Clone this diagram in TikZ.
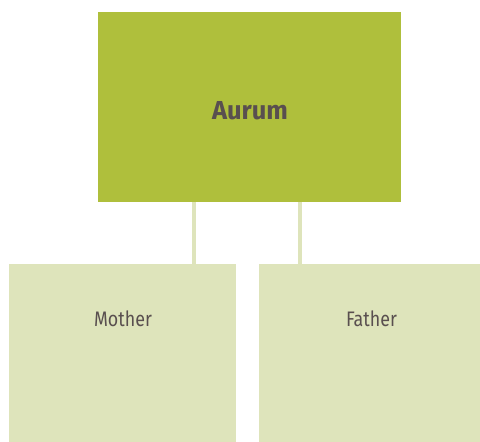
\documentclass[tikz,border=0pt]{standalone}
\usepackage{fontspec}
\setmainfont{Fira Sans}
\newfontfamily\condfont[FakeStretch=0.85]{Fira Sans}
\newfontfamily\condbold[FakeStretch=0.98]{Fira Sans}
\definecolor{topgreen}{HTML}{AFBF3C}
\definecolor{paleg}{HTML}{DEE4BB}
\definecolor{txt}{HTML}{594F4F}
\begin{document}
\begin{tikzpicture}[x=1pt,y=-1pt,
  box/.style={inner sep=0pt,outer sep=0pt,draw=none},
  conn/.style={draw=paleg,line width=4pt}]
\useasboundingbox (0,0) rectangle (480,442);
\fill[topgreen] (98,12) rectangle (401,202);
\node[box,text=txt,font=\condbold\fontsize{26}{31}\selectfont\bfseries] (aurum) at (250,111) {Aurum};
\fill[paleg] (9,264) rectangle (236,442);
\fill[paleg] (259,264) rectangle (480,442);
\node[box,text=txt,font=\condfont\fontsize{21}{25}\selectfont] (mother) at (123,318.5) {Mother};
\node[box,text=txt,font=\condfont\fontsize{21}{25}\selectfont] (father) at (371.5,318.5) {Father};
\coordinate (t1) at (194,202);
\coordinate (b1) at (194,264);
\coordinate (t2) at (300,202);
\coordinate (b2) at (300,264);
\draw[conn] (t1) -- (b1);
\draw[conn] (t2) -- (b2);
\end{tikzpicture}
\end{document}
